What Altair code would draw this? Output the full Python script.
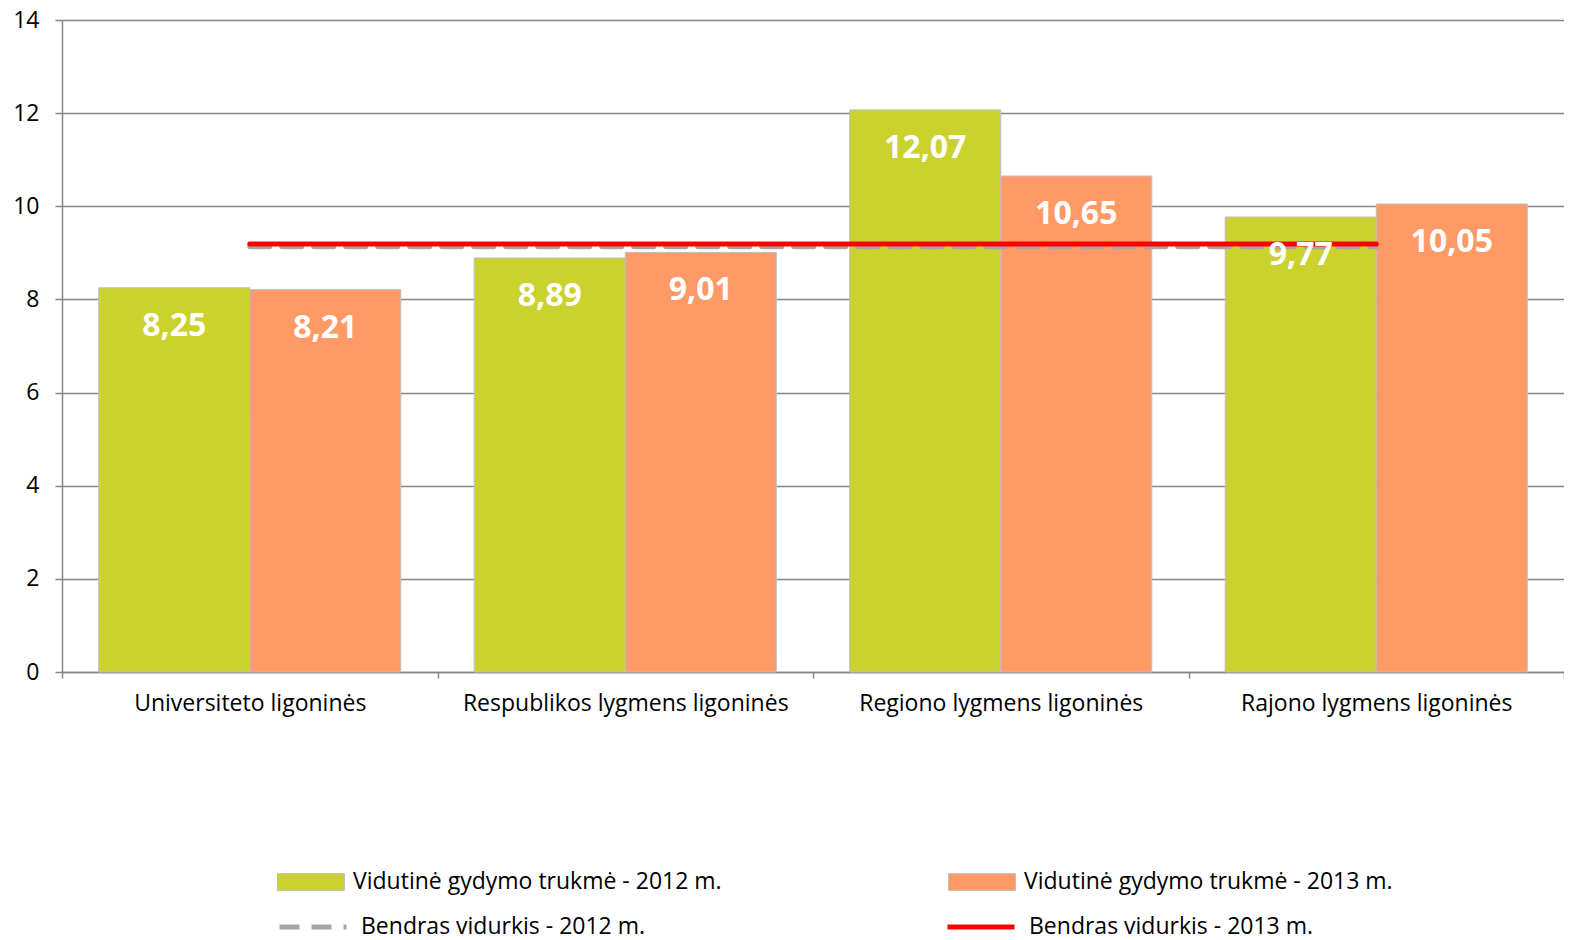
import altair as alt
import pandas as pd

categories = ["Universiteto ligoninės", "Respublikos lygmens ligoninės",
              "Regiono lygmens ligoninės", "Rajono lygmens ligoninės"]
values_2012 = [8.25, 8.89, 12.07, 9.77]
values_2013 = [8.21, 9.01, 10.65, 10.05]
avg_2012 = [9.13, 9.13, 9.13, 9.13]
avg_2013 = [9.19, 9.19, 9.19, 9.19]
bar_series = ["Vidutinė gydymo trukmė - 2012 m.", "Vidutinė gydymo trukmė - 2013 m."]
line_series = ["Bendras vidurkis - 2012 m.", "Bendras vidurkis - 2013 m."]
y_ticks = [0, 2, 4, 6, 8, 10, 12, 14]

FONT = "Open Sans"
FS = 23
GREEN = "#cbd22e"
ORANGE = "#ff9966"
GRID = "#868686"

bar_rows = []
for s, vals in zip(bar_series, [values_2012, values_2013]):
    for c, v in zip(categories, vals):
        bar_rows.append({"cat": c, "series": s, "value": v,
                         "label": f"{v:.2f}".replace(".", ",")})
bars_df = pd.DataFrame(bar_rows)

line_rows = []
for s, vals in zip(line_series, [avg_2012, avg_2013]):
    for c, v in zip(categories, vals):
        line_rows.append({"cat": c, "series": s, "value": v})
lines_df = pd.DataFrame(line_rows)

x_enc = alt.X("cat:N", sort=categories,
              scale=alt.Scale(paddingInner=0, paddingOuter=0),
              axis=alt.Axis(title=None, labelAngle=0, tickBand="extent",
                            ticks=True, tickSize=6, tickColor=GRID, tickWidth=1.5,
                            domainColor=GRID, domainWidth=1.5,
                            labelFont=FONT, labelFontSize=FS, labelColor="black",
                            labelPadding=14, labelLimit=0, grid=False))
y_enc = alt.Y("value:Q", scale=alt.Scale(domain=[0, 14], nice=False),
              axis=alt.Axis(title=None, values=y_ticks, grid=True,
                            gridColor=GRID, gridWidth=1.5,
                            tickSize=7, tickColor=GRID, tickWidth=1.5,
                            domainColor=GRID, domainWidth=1.5,
                            labelFont=FONT, labelFontSize=FS, labelColor="black",
                            labelPadding=16))
xoff = alt.XOffset("series:N", sort=bar_series,
                   scale=alt.Scale(domain=bar_series, paddingInner=0, paddingOuter=0.243))

bars = alt.Chart(bars_df).mark_bar(stroke="#bfbfbf", strokeWidth=1).encode(
    x=x_enc, y=y_enc, xOffset=xoff,
    fill=alt.Fill("series:N", scale=alt.Scale(domain=bar_series, range=[GREEN, ORANGE]),
                  legend=alt.Legend(title=None, orient="none", legendX=215, legendY=828,
                                    direction="horizontal", columns=2, columnPadding=224,
                                    symbolType="M-1,-0.25H1V0.25H-1Z", symbolSize=4489,
                                    symbolStrokeColor="#bfbfbf", symbolStrokeWidth=1,
                                    labelFont=FONT, labelFontSize=FS, labelColor="black",
                                    labelOffset=8, padding=0, labelLimit=0)),
)

text = alt.Chart(bars_df).mark_text(dy=38, fontSize=32, fontWeight="bold", color="white",
                                    font=FONT, baseline="middle").encode(
    x=x_enc, y=y_enc, xOffset=xoff, text="label:N"
)

line_legend = alt.Legend(title=None, orient="none", legendX=215, legendY=871,
                         direction="horizontal", columns=2, columnPadding=291,
                         symbolType="stroke", symbolSize=4489, symbolStrokeWidth=5,
                         labelFont=FONT, labelFontSize=FS, labelColor="black",
                         labelOffset=12, padding=0, labelLimit=0)
stroke_enc = alt.Stroke("series:N", scale=alt.Scale(domain=line_series, range=["#a6a6a6", "#ff0000"]),
                        legend=line_legend)
dash_enc = alt.StrokeDash("series:N", scale=alt.Scale(domain=line_series, range=[[20, 12], [1, 0]]),
                          legend=line_legend)

line_gray = alt.Chart(lines_df).transform_filter(
    alt.datum.series == line_series[0]
).mark_line(strokeWidth=5, strokeCap="round").encode(
    x=x_enc, y=y_enc, stroke=stroke_enc, strokeDash=dash_enc
)
line_red = alt.Chart(lines_df).transform_filter(
    alt.datum.series == line_series[1]
).mark_line(strokeWidth=5, strokeCap="round").encode(
    x=x_enc, y=y_enc, stroke=stroke_enc, strokeDash=dash_enc
)

chart = alt.layer(bars, line_gray, line_red, text).properties(
    width=1502, height=652,
    autosize=alt.AutoSizeParams(type="none"),
    padding={"left": 54, "top": 12, "right": 0, "bottom": 267},
    background="white",
).configure_view(stroke=None)

chart.save("out.html", embed_options={"renderer": "svg", "actions": False})
